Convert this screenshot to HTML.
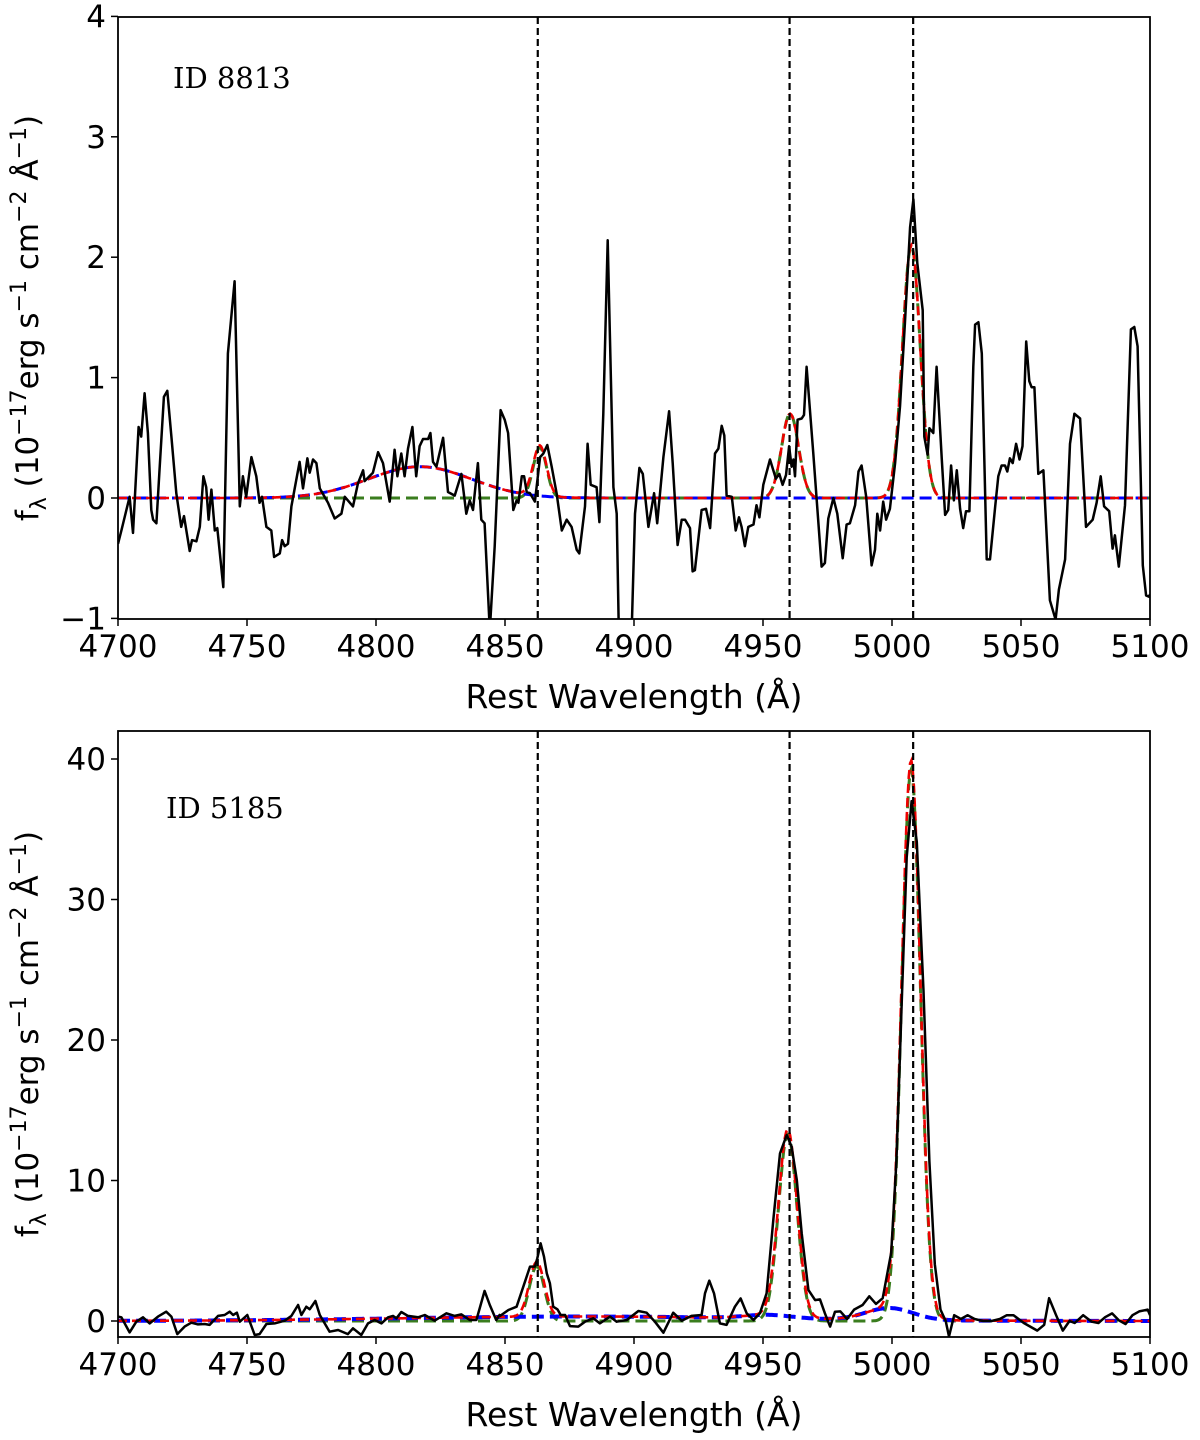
<!DOCTYPE html>
<html><head><meta charset="utf-8"><style>
html,body{margin:0;padding:0;background:#fff}
svg{display:block;font-family:"DejaVu Sans","Liberation Sans",sans-serif}
</style></head><body>
<svg id="fig" width="1200" height="1440" viewBox="0 0 1200 1440" xmlns="http://www.w3.org/2000/svg">
<defs>
<clipPath id="clipT"><rect x="118" y="17" width="1032" height="602"/></clipPath>
<clipPath id="clipB"><rect x="118" y="731" width="1032" height="606"/></clipPath>
</defs>
<g id="top"></g>
<g id="bot"></g>
</svg>
<script>
// ---------- data: top panel (ID 8813) ----------
const waveTop = [4700,4701.3,4704.5,4705.8,4708.0,4709.0,4710.3,4711.6,4712.9,4713.6,4714.9,4716.1,4717.8,4719.1,4720.7,4722.6,4724.5,4725.6,4727.8,4728.7,4730.4,4731.7,4733.1,4734.2,4735.1,4736.2,4737.5,4738.5,4740.8,4742.6,4745.2,4747.2,4748.4,4749.7,4751.7,4753.6,4754.9,4755.8,4757.5,4759.4,4760.5,4762.7,4763.6,4764.6,4765.9,4767.2,4770.4,4771.7,4773.4,4774.3,4775.6,4776.9,4778.2,4781.4,4784.0,4786.6,4787.9,4791.1,4793.0,4795.0,4795.6,4798.8,4800.8,4802.7,4805.3,4807.2,4808.3,4809.8,4811.1,4812.4,4814.1,4815.6,4816.9,4818.2,4820.2,4821.1,4822.1,4823.4,4826.0,4827.9,4830.5,4833.1,4835.0,4836.3,4837.6,4839.5,4840.8,4842.1,4844.1,4846.0,4848.3,4849.9,4851.2,
4853.2,4854.5,4855.2,4856.5,4857.4,4858.4,4859.7,4861.6,4863.6,4864.9,4866.4,4868.1,4870.0,4872.0,4873.9,4875.8,4877.8,4878.8,4881.0,4882.0,4883.2,4885.5,4886.6,4888.1,4889.8,4892.0,4893.3,4894.1,4899.1,4900.4,4902.1,4903.4,4905.6,4907.8,4909.0,4911.4,4913.6,4915.0,4916.9,4918.5,4919.8,4921.7,4922.7,4923.6,4926.2,4927.9,4929.5,4931.4,4932.7,4934.0,4935.0,4935.9,4937.9,4939.4,4940.7,4941.7,4943.0,4944.3,4946.3,4947.5,4948.6,4950.1,4952.7,4955.0,4956.3,4957.6,4958.9,4960.1,4961.1,4961.8,4962.4,4963.4,4965.0,4965.9,4966.9,4969.5,4972.7,4974.0,4975.3,4977.3,4978.8,4980.9,4982.4,4983.7,
4985.7,4987.0,4988.2,4990.0,4992.1,4993.4,4994.3,4995.4,4996.6,4997.7,4999.2,5001.2,5003.1,5005.0,5007.0,5008.3,5009.8,5011.9,5012.5,5013.8,5014.5,5016.0,5017.3,5019.3,5020.6,5021.8,5022.9,5024.0,5025.1,5026.4,5027.6,5028.7,5030.0,5031.5,5032.2,5033.5,5034.8,5036.7,5038.0,5040.0,5041.2,5042.5,5043.8,5044.7,5045.7,5046.8,5048.1,5049.4,5050.6,5052.0,5053.2,5054.1,5055.2,5056.7,5058.7,5061.2,5063.4,5064.7,5067.1,5069.0,5070.7,5072.9,5075.2,5077.8,5079.3,5080.9,5082.2,5084.2,5085.5,5086.4,5087.9,5090.3,5092.6,5093.9,5095.2,5097.2,5098.5,5099.6,5100];
const fluxTop = [-0.38,-0.27,0.01,-0.29,0.59,0.51,0.87,0.54,-0.10,-0.18,-0.21,0.23,0.84,0.89,0.51,0.04,-0.24,-0.15,-0.44,-0.35,-0.36,-0.24,0.18,0.09,-0.18,0.07,-0.27,-0.25,-0.74,1.20,1.80,-0.07,0.18,0.01,0.34,0.18,-0.04,0.01,-0.24,-0.27,-0.49,-0.46,-0.35,-0.40,-0.38,-0.07,0.30,0.08,0.33,0.21,0.32,0.29,0.08,-0.04,-0.17,-0.13,0.01,-0.07,0.12,0.23,0.14,0.21,0.38,0.29,-0.03,0.40,0.18,0.37,0.18,0.41,0.59,0.18,0.43,0.49,0.49,0.54,0.30,0.26,0.50,0.05,0.02,0.20,-0.13,-0.02,-0.10,0.29,-0.18,-0.21,-1.1,-0.40,0.73,0.65,0.54,
-0.10,-0.02,-0.04,0.18,0.18,0.05,0.04,-0.03,0.34,0.37,0.44,0.26,0.04,-0.27,-0.18,-0.24,-0.43,-0.46,-0.07,0.45,0.11,0.09,-0.20,0.70,2.14,0.09,-0.13,-1.1,-1.1,-0.13,0.25,0.20,-0.24,0.04,-0.21,0.34,0.72,0.29,-0.39,-0.18,-0.18,-0.25,-0.61,-0.60,-0.10,-0.09,-0.25,0.37,0.41,0.60,0.52,0.02,0.01,-0.27,-0.16,-0.24,-0.40,-0.24,-0.22,-0.06,-0.16,0.11,0.32,0.16,0.20,0.11,0.19,0.43,0.26,0.32,0.18,0.65,0.66,0.69,1.09,0.37,-0.57,-0.54,-0.17,0.00,-0.13,-0.50,-0.22,-0.21,
-0.06,0.22,0.27,0.01,-0.56,-0.43,-0.13,-0.27,-0.03,-0.18,-0.09,0.29,0.76,1.45,2.25,2.48,1.95,1.56,0.51,0.36,0.58,0.54,1.09,0.32,-0.14,-0.10,0.27,-0.02,0.23,-0.09,-0.25,-0.11,-0.11,1.09,1.44,1.46,1.20,-0.51,-0.51,-0.07,0.18,0.27,0.27,0.22,0.33,0.29,0.45,0.32,0.43,1.30,0.97,0.92,0.92,0.20,0.23,-0.85,-1.01,-0.76,-0.51,0.45,0.70,0.66,-0.24,-0.18,-0.04,0.18,-0.07,-0.11,-0.42,-0.31,-0.57,-0.06,1.40,1.42,1.26,-0.56,-0.81,-0.82,-0.80];
// gaussian components [center, amplitude, sigma]
const broadTop = [[4817,0.26,20]];
const narrowTop = [[4863.5,0.42,2.6],[4960.5,0.70,3.3],[5007.5,2.10,3.4]];
const vlinesWave = [4862.7,4960.3,5008.2];
const xTicks = [4700,4750,4800,4850,4900,4950,5000,5050,5100];
const yTicksTop = [-1,0,1,2,3,4];
const yTicksBot = [0,10,20,30,40];

// ---------- data: bottom panel (ID 5185) ----------
const waveBot = [4700,4701.3,4704.5,4707.1,4709.7,4712.3,4715.5,4718.7,4720.7,4723.0,4725.8,4728.4,4731.0,4733.6,4735.5,4738.8,4741.3,4743.3,4744.6,4746.1,4747.2,4750.1,4753.0,4754.9,4757.5,4760.7,4764.6,4767.2,4769.8,4771.1,4773.0,4774.3,4776.5,4778.2,4782.0,4785.3,4789.1,4791.1,4794.3,4796.9,4799.5,4802.1,4804.7,4806.6,4807.9,4809.8,4812.4,4816.3,4818.9,4822.7,4827.3,4830.5,4833.1,4836.3,4838.9,4842.1,4844.1,4846.6,4847.9,
4848.1,4851.3,4854.5,4857.1,4859.7,4861.6,4862.5,4863.8,4865.1,4866.2,4867.4,4868.7,4870.3,4871.6,4873.3,4875.2,4878.4,4881.0,4884.2,4886.8,4890.7,4893.3,4897.2,4901.7,4904.9,4908.1,4911.4,4915.2,4918.5,4922.3,4926.2,4927.5,4929.2,4931.0,4933.3,4935.9,4939.1,4941.3,4943.7,4946.3,4948.8,4951.4,4954.0,4956.6,4959.2,4961.1,4963.1,4965.0,4967.6,4970.2,4972.1,4974.0,4976.0,4977.9,
4980.0,4982.6,4985.3,4988.6,4991.2,4993.8,4996.4,4999.7,5001.7,5003.7,5005.7,5007.6,5009.6,5012.2,5014.5,5016.6,5018.8,5020.8,5022.1,5024.1,5026.7,5029.3,5032.0,5035.3,5038.6,5041.8,5044.5,5047.1,5051.1,5056.3,5059.0,5060.9,5063.6,5066.2,5068.8,5070.8,5074.1,5077.4,5080.0,5082.6,5085.3,5087.9,5090.5,5093.2,5095.8,5099.1,5100];
const fluxBot = [0.31,0.26,-0.81,-0.05,0.26,-0.17,0.31,0.66,0.31,-0.93,-0.40,-0.12,-0.24,-0.21,-0.28,0.36,0.43,0.66,0.43,0.59,-0.05,0.43,-1.0,-0.93,-0.21,-0.17,0.02,0.36,1.14,0.43,1.02,0.83,1.42,0.43,-0.76,-0.64,-0.93,-0.52,-1.0,-0.17,0.07,-0.17,0.26,0.36,0.19,0.64,0.36,0.26,0.43,0.02,0.55,0.36,0.47,0.07,0.07,2.14,1.14,0.07,0.43,
0.36,0.78,1.02,2.44,3.87,3.87,4.46,5.53,4.58,3.39,2.68,1.02,0.83,0.43,0.43,-0.36,-0.40,-0.05,0.19,-0.17,0.31,-0.05,0.07,0.71,0.59,-0.05,-0.83,0.59,0.02,0.36,0.43,1.97,2.87,1.97,-0.17,-0.28,1.02,1.61,0.55,0.07,0.55,1.97,7.19,11.93,13.24,12.41,10.04,6.24,2.21,1.49,1.54,0.55,-0.40,0.66,
0.68,0.14,0.81,1.14,1.76,1.22,1.62,4.86,11.35,22.2,33.0,37.0,34.1,23.5,11.35,4.05,0.81,0.0,-1.1,0.41,0.14,0.41,0.14,0.0,0.0,0.14,0.41,0.41,-0.14,-0.68,-0.27,1.62,0.41,-0.68,0.0,-0.14,0.41,-0.05,-0.14,0.27,0.54,0.05,-0.22,0.41,0.68,0.81,0.41];
const broadBot = [[4880,0.32,70],[4952,0.25,9],[4999,0.85,9]];
const narrowBot = [[4862.3,3.9,2.9],[4959.6,13.3,3.6],[5007.4,39.3,3.6]];

// ---------- axes ----------
const X0=118, X1=1150, W0=4700, W1=5100;
function xS(w){return X0+(w-W0)*(X1-X0)/(W1-W0);}
const topAx={y0:498, ppu:120.4, top:17, bottom:619};
const botAx={y0:1321, ppu:14.05, top:731, bottom:1337};
function yS(ax,f){return ax.y0 - f*ax.ppu;}
const NS="http://www.w3.org/2000/svg";
function mk(tag,attrs,parent){const e=document.createElementNS(NS,tag);for(const k in attrs)e.setAttribute(k,attrs[k]);parent.appendChild(e);return e;}
function gauss(comps,w){let s=0;for(const c of comps){s+=c[1]*Math.exp(-0.5*Math.pow((w-c[0])/c[2],2));}return s;}
function modelPath(ax,comps){let d="";for(let w=W0;w<=W1;w+=0.5){d+=(d?"L":"M")+xS(w).toFixed(1)+","+yS(ax,gauss(comps,w)).toFixed(1);}return d;}
function dataPath(ax,wv,fl){let d="";for(let i=0;i<wv.length;i++){d+=(i?"L":"M")+xS(wv[i]).toFixed(1)+","+yS(ax,fl[i]).toFixed(1);}return d;}

function drawPanel(g,ax,clip,wv,fl,broad,narrow,yt,idLabel,idx,idy,ylabY){
  const cg=mk("g",{"clip-path":"url(#"+clip+")"},g);
  
  
  const gr=mk("path",{d:modelPath(ax,narrow),fill:"none",stroke:"#3a7d1e","stroke-width":3,"stroke-dasharray":"12,6"},cg);
  
  
  const bl=mk("path",{d:modelPath(ax,broad),fill:"none",stroke:"#0000ff","stroke-width":ax===botAx?4:3,"stroke-dasharray":"12,6"},cg);
  
  
  const all=broad.concat(narrow);
  const rd=mk("path",{d:modelPath(ax,all),fill:"none",stroke:"#ee0000","stroke-width":2.6,"stroke-dasharray":"9,5"},cg);
  
  
  const sp=mk("path",{d:dataPath(ax,wv,fl),fill:"none",stroke:"#000","stroke-width":2.5,"stroke-linejoin":"round"},cg);
  
  
  for(const v of vlinesWave){
    const l=mk("line",{x1:xS(v),x2:xS(v),y1:ax.top,y2:ax.bottom,stroke:"#000","stroke-width":2.2,"stroke-dasharray":"7,4"},cg);
    
    
  }
  const fr=mk("rect",{x:X0,y:ax.top,width:X1-X0,height:ax.bottom-ax.top,fill:"none",stroke:"#000","stroke-width":1.8},g);
  
  
  for(const t of xTicks){
    const x=xS(t);
    const tk=mk("line",{x1:x,x2:x,y1:ax.bottom,y2:ax.bottom+7,stroke:"#000","stroke-width":1.5},g);
    
    
    const tx=mk("text",{x:x,y:ax.bottom+38,"text-anchor":"middle","font-size":31,fill:"#000"},g);
    tx.textContent=String(t);
    
    
  }
  for(const t of yt){
    const y=yS(ax,t);
    const tk=mk("line",{x1:X0-7,x2:X0,y1:y,y2:y,stroke:"#000","stroke-width":1.5},g);
    
    
    const tx=mk("text",{x:X0-12,y:y+11,"text-anchor":"end","font-size":31,fill:"#000"},g);
    tx.textContent=(t<0?"\u2212"+(-t):String(t));
    
    
  }
  const xl=mk("text",{x:(X0+X1)/2,y:ax.bottom+89,"text-anchor":"middle","font-size":33,fill:"#000"},g);
  xl.textContent="Rest Wavelength (Å)";
  
  
  const yl=mk("text",{x:0,y:0,"text-anchor":"middle","font-size":31,fill:"#000",transform:"translate(38,"+ylabY+") rotate(-90)"},g);
  yl.innerHTML='f<tspan font-size="22" dy="8">λ</tspan><tspan dy="-8"> (10</tspan><tspan font-size="22" dy="-12">−17</tspan><tspan dy="12">erg s</tspan><tspan font-size="22" dy="-12">−1</tspan><tspan dy="12"> cm</tspan><tspan font-size="22" dy="-12">−2</tspan><tspan dy="12"> Å</tspan><tspan font-size="22" dy="-12">−1</tspan><tspan dy="12">)</tspan>';
  
  
  const id=mk("text",{x:idx,y:idy,"font-size":29,fill:"#000","font-family":"'DejaVu Serif','Liberation Serif',serif"},g);
  id.textContent=idLabel;
  
  
}
drawPanel(document.getElementById("top"),topAx,"clipT",waveTop,fluxTop,broadTop,narrowTop,yTicksTop,"ID 8813",173,88,318);
drawPanel(document.getElementById("bot"),botAx,"clipB",waveBot,fluxBot,broadBot,narrowBot,yTicksBot,"ID 5185",166,818,1034);
</script>
</body></html>
